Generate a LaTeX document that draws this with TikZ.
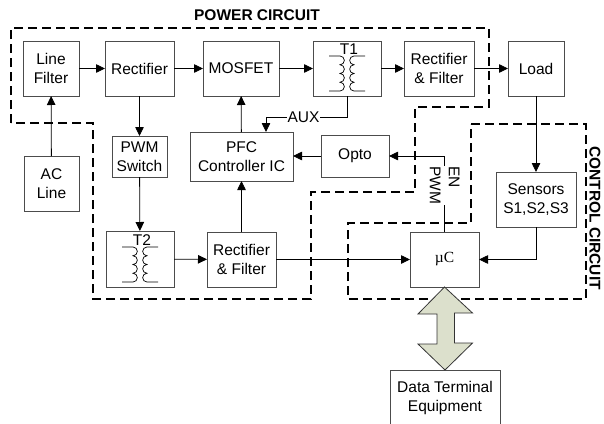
\documentclass[tikz,border=0pt]{standalone}
\usepackage{fontspec}
\setmainfont{Liberation Sans}
\newfontfamily\serifmu{Liberation Serif}
\usetikzlibrary{arrows.meta,calc}
\definecolor{arrowfill}{HTML}{DCE0CC}
\begin{document}
\begin{tikzpicture}[x=1pt,y=-1pt,
  every node/.style={font=\fontsize{15.5}{19}\selectfont, inner sep=0pt, outer sep=0pt},
  blk/.style={draw=black!70, line width=0.8pt, align=center},
  conn/.style={line width=0.8pt, draw=black},
  arr/.style={conn, -{Triangle[length=9pt,width=8.5pt]}},
  region/.style={line width=1.2pt, dash pattern=on 9pt off 5pt},
  lbl/.style={fill=white, inner sep=1pt},
  coil/.style={line width=0.7pt}
]
\useasboundingbox (0,0) rectangle (604,423);
\clip (0,0) rectangle (604,423);

% dashed regions
\draw[region] (11,123) -- (11,28) -- (489,28) -- (489,107) -- (415,107) -- (415,192) -- (311,192) -- (311,299) -- (93,299) -- (93,123) -- cycle;
\draw[region] (471,124) -- (586,124) -- (586,299) -- (348,299) -- (348,223) -- (471,223) -- cycle;

\node[font=\fontsize{15.5}{19}\selectfont\bfseries] (pc) at (257,15) {POWER CIRCUIT};
\node[font=\fontsize{15.5}{19}\selectfont\bfseries, rotate=-90] (cc) at (595,218) {CONTROL CIRCUIT};

% blocks
\node[blk, minimum width=56, minimum height=55] (lf) at (51,68.5) {Line\\Filter};
\node[blk, minimum width=69, minimum height=55] (rect) at (139.5,68.5) {Rectifier};
\node[blk, minimum width=76, minimum height=55] (mos) at (241,68.5) {MOSFET};
\node[blk, minimum width=68, minimum height=55] (t1) at (347,68.5) {};
\node[blk, minimum width=70, minimum height=55] (rf1) at (439,68.5) {Rectifier\\\& Filter};
\node[blk, minimum width=56, minimum height=55] (load) at (536,68.5) {Load};
\node[blk, minimum width=55, minimum height=55] (ac) at (51.5,183.5) {AC\\Line};
\node[blk, minimum width=55, minimum height=41] (pwm) at (139.5,156.5) {PWM\\Switch};
\node[blk, minimum width=103, minimum height=49] (pfc) at (241.5,156.5) {PFC\\Controller IC};
\node[blk, minimum width=68, minimum height=42] (opto) at (355,156) {Opto};
\node[blk, minimum width=80, minimum height=55] (sens) at (536,199.5) {Sensors\\S1,S2,S3};
\node[blk, minimum width=68, minimum height=56] (t2) at (140,259) {};
\node[blk, minimum width=69, minimum height=55] (rf2) at (241.5,259.5) {Rectifier\\\& Filter};
\node[blk, minimum width=69, minimum height=55] (uc) at (444.5,259.5) {\serifmu\fontsize{15.5}{19}\selectfont µC};
\node[blk, minimum width=110, minimum height=55] (dte) at (445,397.5) {Data Terminal\\Equipment};

% transformer symbols
\foreach \c/\ytop/\tn/\tl in {347/56/t1l/T1, 140/247/t2l/T2}{
  \node (\tn) at (\c+2,\ytop-7) {\tl};
  \draw[coil] (\c-18,\ytop) -- (\c-7,\ytop)
    arc[start angle=-90,end angle=90,radius=4.375]
    arc[start angle=-90,end angle=90,radius=4.375]
    arc[start angle=-90,end angle=90,radius=4.375]
    arc[start angle=-90,end angle=90,radius=4.375] -- (\c-18,\ytop+35);
  \draw[coil] (\c+18,\ytop) -- (\c+7,\ytop)
    arc[start angle=-90,end angle=-270,radius=4.375]
    arc[start angle=-90,end angle=-270,radius=4.375]
    arc[start angle=-90,end angle=-270,radius=4.375]
    arc[start angle=-90,end angle=-270,radius=4.375] -- (\c+18,\ytop+35);
}

% power path
\draw[arr] (lf) -- (rect);
\draw[arr] (rect) -- (mos);
\draw[arr] (mos) -- (t1);
\draw[arr] (t1) -- (rf1);
\draw[arr] (rf1) -- (load);
\draw[arr] (ac) -- (lf);
\draw[arr] (rect) -- (pwm);
\draw[arr] (pwm) -- (t2);
\draw[arr] (t2) -- (rf2);
\draw[arr] (rf2) -- (pfc);
\draw[arr] (pfc) -- (mos);
\draw[arr] (rf2.east) -- (uc.west);
\draw[arr] (opto) -- (pfc.east |- opto);
\draw[arr] (load) -- (sens);
\draw[arr] (sens.south) |- (uc.east);

% AUX
\coordinate (auxc) at (t1.south |- 0,117);
\draw[arr] (t1.south) -- (auxc) -- (266,117) node[lbl, pos=0.5, xshift=-3] {AUX} -- (266,117 |- pfc.north);

% EN / PWM
\draw[arr] (uc.north) -- (uc.north |- opto.east) -- (opto.east);
\node[lbl, rotate=-90, align=left, inner sep=0.5pt, anchor=north west] (enpwm) at (460,166) {EN\\PWM};

% double arrow
\draw[black!80, line width=0.8pt, fill=arrowfill]
  (uc.south) -- ++(28,26) -- ++(-18,0) -- ++(0,30) -- ++(18,0)
  -- (dte.north) -- ++(-27,-26) -- ++(19,0) -- ++(0,-30) -- ++(-19,0) -- cycle;
\end{tikzpicture}
\end{document}
